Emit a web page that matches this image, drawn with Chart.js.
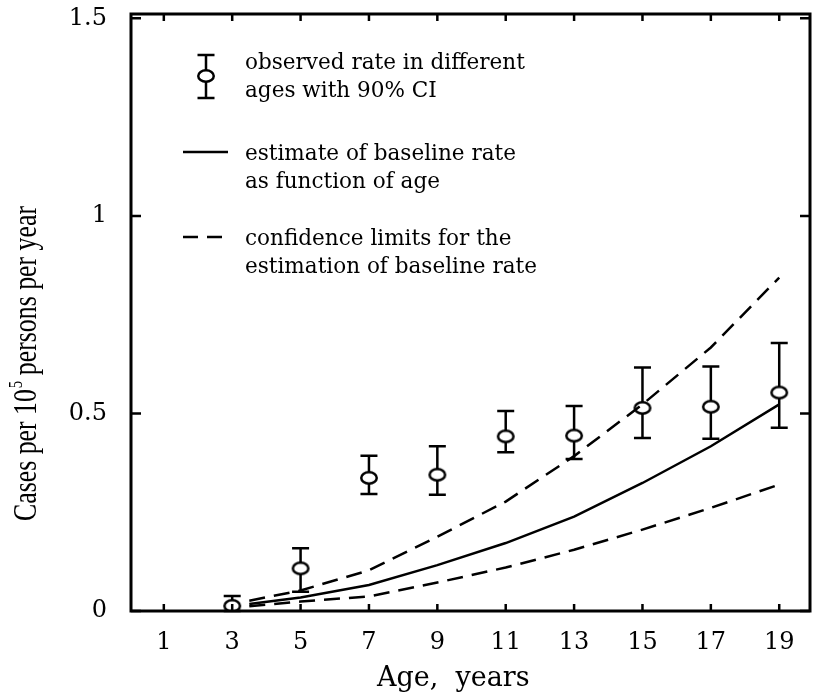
<!DOCTYPE html>
<html><head><meta charset="utf-8">
<script src="https://cdn.jsdelivr.net/npm/chart.js@4/dist/chart.umd.min.js"></script>
<style>html,body{margin:0;padding:0;background:#fff;overflow:hidden}#wrap{width:813px;height:695px;position:relative}canvas{display:block}</style>
</head><body><div id="wrap"><canvas id="c" width="813" height="695"></canvas></div>
<script>
// ---- data ----
const ages = [3, 5, 7, 9, 11, 13, 15, 17, 19];
const observedRate = [0.013, 0.108, 0.337, 0.345, 0.442, 0.444, 0.514, 0.517, 0.553];
const ciLower = [0.0, 0.049, 0.296, 0.294, 0.402, 0.385, 0.438, 0.436, 0.464];
const ciUpper = [0.038, 0.159, 0.393, 0.417, 0.506, 0.519, 0.616, 0.619, 0.678];
const curveAges = [3.5, 5, 7, 9, 11, 13, 15, 17, 19];
const baselineEstimate = [0.018, 0.034, 0.066, 0.116, 0.172, 0.239, 0.324, 0.417, 0.523];
const upperLimit = [0.026, 0.052, 0.103, 0.188, 0.277, 0.392, 0.523, 0.667, 0.844];
const lowerLimit = [0.012, 0.024, 0.037, 0.072, 0.110, 0.155, 0.206, 0.261, 0.320];
const xTicks = [1, 3, 5, 7, 9, 11, 13, 15, 17, 19];
const yTicks = [0, 0.5, 1, 1.5];
const yTickLabels = ['0', '0.5', '1', '1.5'];
const legendObserved = ['observed rate in different', 'ages with 90% CI'];
const legendEstimate = ['estimate of baseline rate', 'as function of age'];
const legendLimits = ['confidence limits for the', 'estimation of baseline rate'];
const xTitle = 'Age,  years';
const yTitleParts = ['Cases per 10', '5', ' persons per year'];

const serif = '"DejaVu Serif", serif';
const pts = (xs, ys) => xs.map((x, i) => ({x: x, y: ys[i]}));
const noPad = s => { s.paddingTop = 0; s.paddingBottom = 0; s.paddingLeft = 0; s.paddingRight = 0; };

// keep marker overflow from shrinking the plot area
Chart.registry.getController('scatter').prototype.getMaxOverflow = function () { return 0; };

// open elliptical marker
const marker = document.createElement('canvas');
marker.width = 20; marker.height = 16;
(function () {
  const m = marker.getContext('2d');
  m.fillStyle = '#fff'; m.strokeStyle = '#000'; m.lineWidth = 2.5;
  m.beginPath(); m.ellipse(10, 8, 7.75, 5.75, 0, 0, Math.PI * 2); m.fill(); m.stroke();
})();

const frameAndBars = {
  id: 'frameAndBars',
  beforeDatasetsDraw(chart) {
    const ctx = chart.ctx, xs = chart.scales.x, ys = chart.scales.y;
    ctx.save();
    ctx.strokeStyle = '#000'; ctx.lineWidth = 2.5; ctx.lineCap = 'butt';
    ages.forEach((a, i) => {
      const px = xs.getPixelForValue(a);
      const y1 = ys.getPixelForValue(ciLower[i]), y2 = ys.getPixelForValue(ciUpper[i]);
      ctx.beginPath();
      ctx.moveTo(px, y1); ctx.lineTo(px, y2);
      ctx.moveTo(px - 8.5, y1); ctx.lineTo(px + 8.5, y1);
      ctx.moveTo(px - 8.5, y2); ctx.lineTo(px + 8.5, y2);
      ctx.stroke();
    });
    ctx.restore();
  },
  afterDraw(chart) {
    const ctx = chart.ctx, a = chart.chartArea, xs = chart.scales.x, ys = chart.scales.y;
    ctx.save();
    ctx.strokeStyle = '#000'; ctx.fillStyle = '#000';
    // frame
    ctx.lineWidth = 3;
    ctx.strokeRect(a.left, a.top, a.right - a.left, a.bottom - a.top);
    // inward tick marks
    ctx.lineWidth = 2.5;
    ctx.beginPath();
    xTicks.forEach(v => {
      const px = xs.getPixelForValue(v);
      ctx.moveTo(px, a.bottom); ctx.lineTo(px, a.bottom - 7);
      ctx.moveTo(px, a.top); ctx.lineTo(px, a.top + 7);
    });
    yTicks.forEach(v => {
      const py = ys.getPixelForValue(v);
      ctx.moveTo(a.left, py); ctx.lineTo(a.left + 10, py);
      ctx.moveTo(a.right, py); ctx.lineTo(a.right - 10, py);
    });
    ctx.stroke();
    // legend
    const L = a.left, T = a.top;
    const sx = L + 75;
    ctx.lineWidth = 2.5;
    ctx.beginPath();
    ctx.moveTo(sx, T + 41); ctx.lineTo(sx, T + 84);
    ctx.moveTo(sx - 8.5, T + 41); ctx.lineTo(sx + 8.5, T + 41);
    ctx.moveTo(sx - 8.5, T + 84); ctx.lineTo(sx + 8.5, T + 84);
    ctx.stroke();
    ctx.beginPath();
    ctx.ellipse(sx, T + 62, 7.75, 5.75, 0, 0, Math.PI * 2);
    ctx.fillStyle = '#fff'; ctx.fill(); ctx.stroke();
    ctx.fillStyle = '#000';
    ctx.beginPath();
    ctx.moveTo(L + 52, T + 138); ctx.lineTo(L + 97, T + 138);
    ctx.stroke();
    ctx.setLineDash([15, 9]);
    ctx.beginPath();
    ctx.moveTo(L + 52, T + 223); ctx.lineTo(L + 92, T + 223);
    ctx.stroke();
    ctx.setLineDash([]);
    ctx.font = '20px ' + serif;
    const fs = 20 * 292 / ctx.measureText(legendLimits[1]).width;
    ctx.font = fs.toFixed(2) + 'px ' + serif;
    ctx.textBaseline = 'middle'; ctx.textAlign = 'left';
    const tx = L + 114;
    [[legendObserved, 49], [legendEstimate, 140], [legendLimits, 225]].forEach(([lines, y0]) => {
      lines.forEach((s, k) => ctx.fillText(s, tx, T + y0 + k * 28));
    });
    // y axis title (condensed serif, superscript 5)
    const big = '33px "Liberation Serif", serif', small = '19px "Liberation Serif", serif';
    ctx.font = big;
    const w0 = ctx.measureText(yTitleParts[0]).width, w2 = ctx.measureText(yTitleParts[2]).width;
    ctx.font = small;
    const w1 = ctx.measureText(yTitleParts[1]).width;
    const sc = 315 / (w0 + w1 + w2);
    ctx.translate(36, 521);
    ctx.rotate(-Math.PI / 2);
    ctx.scale(sc, 1);
    ctx.textBaseline = 'alphabetic';
    ctx.font = big; ctx.fillText(yTitleParts[0], 0, 0);
    ctx.font = small; ctx.fillText(yTitleParts[1], w0 + 1, -14);
    ctx.font = big; ctx.fillText(yTitleParts[2], w0 + w1, 0);
    ctx.restore();
  }
};

new Chart(document.getElementById('c'), {
  type: 'scatter',
  data: {
    datasets: [
      {label: 'estimate of baseline rate', data: pts(curveAges, baselineEstimate), showLine: true,
       borderColor: '#000', borderWidth: 2.5, pointRadius: 0, tension: 0, fill: false},
      {label: 'upper confidence limit', data: pts(curveAges, upperLimit), showLine: true,
       borderColor: '#000', borderWidth: 2.5, borderDash: [16, 9], pointRadius: 0, tension: 0, fill: false},
      {label: 'lower confidence limit', data: pts(curveAges, lowerLimit), showLine: true,
       borderColor: '#000', borderWidth: 2.5, borderDash: [16, 9], pointRadius: 0, tension: 0, fill: false},
      {label: 'observed rate', data: pts(ages, observedRate), showLine: false,
       pointStyle: marker, pointRadius: 9, pointBorderWidth: 0,
       pointBackgroundColor: '#fff', pointBorderColor: '#000'}
    ]
  },
  options: {
    responsive: false, animation: false, devicePixelRatio: 1,
    layout: {padding: {top: 14, right: 3, left: 0, bottom: 0}},
    plugins: {legend: {display: false}, tooltip: {enabled: false}},
    scales: {
      x: {
        type: 'linear', min: 0.04, max: 19.9,
        grid: {display: false, drawTicks: false}, border: {display: false},
        afterBuildTicks: s => { s.ticks = xTicks.map(v => ({value: v})); },
        afterFit: s => { s.height = 84; noPad(s); },
        ticks: {color: '#000', padding: 17, font: {family: serif, size: 24}, maxRotation: 0,
                callback: v => String(v)},
        title: {display: true, text: xTitle + '    ', color: '#000',
                font: {family: serif, size: 27}, padding: {top: 0, bottom: 0}}
      },
      y: {
        type: 'linear', min: 0, max: 1.511,
        grid: {display: false, drawTicks: false}, border: {display: false},
        afterBuildTicks: s => { s.ticks = yTicks.map(v => ({value: v})); },
        afterFit: s => { s.width = 131; noPad(s); },
        ticks: {color: '#000', padding: 24, font: {family: serif, size: 24},
                callback: (v) => yTickLabels[yTicks.indexOf(v)]},
        title: {display: false}
      }
    }
  },
  plugins: [frameAndBars]
});
</script></body></html>
